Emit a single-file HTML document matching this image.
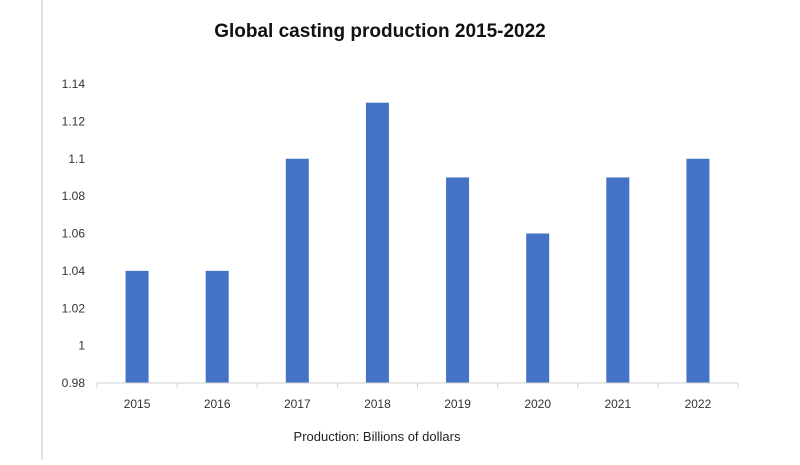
<!DOCTYPE html>
<html><head><meta charset="utf-8"><style>
body{margin:0;background:#fff;width:800px;height:460px;overflow:hidden}
text{font-family:"Liberation Sans",sans-serif}
</style></head><body>
<svg width="800" height="460">
<line x1="42" y1="0" x2="42" y2="460" stroke="#d9d9d9" stroke-width="1.5"/>
<text x="380" y="37" text-anchor="middle" font-size="19" font-weight="bold" fill="#111">Global casting production 2015-2022</text>
<g id="yticks"></g>
<g id="bars"></g>
<g id="xaxis"></g>
<text x="377" y="441" text-anchor="middle" font-size="13" fill="#222">Production: Billions of dollars</text>
</svg>
<script>
const categories=["2015","2016","2017","2018","2019","2020","2021","2022"];
const values=[1.04,1.04,1.10,1.13,1.09,1.06,1.09,1.10];
const tickLabels=["0.98","1","1.02","1.04","1.06","1.08","1.1","1.12","1.14"];
const yMin=0.98,yMax=1.14,y0=383,y1=84,xL=97,xR=738;
const ns="http://www.w3.org/2000/svg";
function y(v){return y0-(v-yMin)/(yMax-yMin)*(y0-y1);}
const step=(xR-xL)/categories.length;
function xc(i){return xL+step*(i+0.5);}
const yt=document.getElementById('yticks');
tickLabels.forEach(t=>{const e=document.createElementNS(ns,'text');


e.setAttribute('x',85);e.setAttribute('y',y(parseFloat(t))+4);e.setAttribute('text-anchor','end');e.setAttribute('font-size','12');e.setAttribute('fill','#333');e.textContent=t;yt.appendChild(e);});
const bg=document.getElementById('bars');
values.forEach((v,i)=>{const r=document.createElementNS(ns,'rect');


r.setAttribute('x',xc(i)-11.5);r.setAttribute('width',23);r.setAttribute('y',y(v));r.setAttribute('height',y0-y(v));r.setAttribute('fill','#4472c4');bg.appendChild(r);});
const xa=document.getElementById('xaxis');
const ax=document.createElementNS(ns,'line');


ax.setAttribute('x1',xL);ax.setAttribute('x2',xR);ax.setAttribute('y1',y0);ax.setAttribute('y2',y0);ax.setAttribute('stroke','#d0d0d0');xa.appendChild(ax);
for(let i=0;i<=categories.length;i++){const t=document.createElementNS(ns,'line');


const x=xL+step*i;t.setAttribute('x1',x);t.setAttribute('x2',x);t.setAttribute('y1',y0);t.setAttribute('y2',y0+5);t.setAttribute('stroke','#d0d0d0');xa.appendChild(t);}
categories.forEach((c,i)=>{const e=document.createElementNS(ns,'text');


e.setAttribute('x',xc(i));e.setAttribute('y',408);e.setAttribute('text-anchor','middle');e.setAttribute('font-size','12');e.setAttribute('fill','#333');e.textContent=c;xa.appendChild(e);});
</script>
</body></html>
